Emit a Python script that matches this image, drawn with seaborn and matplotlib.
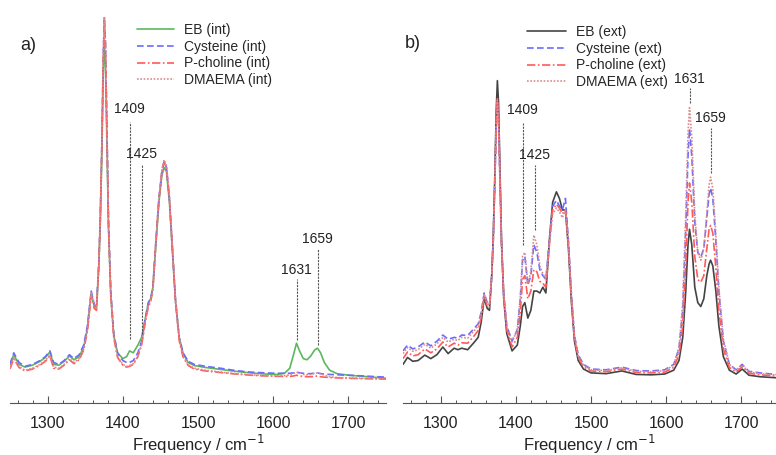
import seaborn as sns
import matplotlib.pyplot as plt
from matplotlib.ticker import MultipleLocator

# panel a) spectra, internal
freq_a = [1250, 1255, 1262, 1270, 1280, 1290, 1297, 1303, 1308, 1315,
          1322, 1329, 1335, 1342, 1348, 1353, 1358, 1362, 1365, 1368,
          1370, 1372, 1374, 1375.5, 1377, 1379, 1381, 1384, 1388, 1393,
          1400, 1405, 1409, 1414, 1420, 1425, 1430, 1434, 1437, 1440,
          1444, 1448, 1452, 1455, 1458, 1462, 1466, 1470, 1475, 1480,
          1487, 1495, 1510, 1530, 1550, 1570, 1590, 1605, 1615, 1622,
          1627, 1631, 1635, 1640, 1645, 1650, 1655, 1659, 1663, 1668,
          1675, 1685, 1700, 1720, 1750]

eb_int = [0.100, 0.125, 0.100, 0.093, 0.098, 0.108, 0.118, 0.132, 0.100, 0.098,
          0.108, 0.122, 0.112, 0.120, 0.145, 0.195, 0.285, 0.250, 0.245, 0.350,
          0.460, 0.630, 0.850, 0.930, 0.870, 0.660, 0.450, 0.280, 0.175, 0.130,
          0.115, 0.120, 0.135, 0.130, 0.150, 0.170, 0.220, 0.260, 0.270, 0.300,
          0.410, 0.520, 0.590, 0.610, 0.600, 0.520, 0.390, 0.265, 0.170, 0.130,
          0.105, 0.097, 0.092, 0.087, 0.082, 0.078, 0.075, 0.074, 0.077, 0.090,
          0.125, 0.155, 0.135, 0.115, 0.112, 0.122, 0.137, 0.142, 0.130, 0.105,
          0.085, 0.076, 0.072, 0.069, 0.064]

cys_int = [0.100, 0.130, 0.105, 0.095, 0.100, 0.110, 0.120, 0.135, 0.105, 0.100,
           0.110, 0.125, 0.115, 0.125, 0.150, 0.200, 0.290, 0.255, 0.250, 0.360,
           0.480, 0.660, 0.900, 1.000, 0.930, 0.700, 0.470, 0.290, 0.180, 0.130,
           0.110, 0.105, 0.105, 0.110, 0.130, 0.160, 0.220, 0.260, 0.270, 0.300,
           0.420, 0.530, 0.600, 0.625, 0.610, 0.530, 0.400, 0.270, 0.170, 0.130,
           0.108, 0.100, 0.095, 0.090, 0.084, 0.080, 0.078, 0.077, 0.077, 0.077,
           0.078, 0.080, 0.078, 0.077, 0.076, 0.076, 0.077, 0.078, 0.076, 0.075,
           0.074, 0.073, 0.072, 0.070, 0.067]

pch_int = [0.088, 0.115, 0.092, 0.083, 0.088, 0.098, 0.108, 0.122, 0.090, 0.088,
           0.098, 0.112, 0.102, 0.112, 0.137, 0.187, 0.280, 0.245, 0.240, 0.350,
           0.470, 0.650, 0.890, 0.990, 0.920, 0.690, 0.460, 0.280, 0.170, 0.118,
           0.098, 0.093, 0.095, 0.100, 0.120, 0.150, 0.210, 0.250, 0.262, 0.293,
           0.415, 0.525, 0.600, 0.625, 0.610, 0.530, 0.400, 0.265, 0.162, 0.120,
           0.097, 0.088, 0.083, 0.079, 0.075, 0.072, 0.070, 0.069, 0.069, 0.069,
           0.070, 0.072, 0.070, 0.069, 0.068, 0.068, 0.069, 0.070, 0.068, 0.067,
           0.066, 0.065, 0.064, 0.063, 0.062]

dma_int = [0.090, 0.118, 0.094, 0.085, 0.090, 0.100, 0.110, 0.125, 0.093, 0.090,
           0.100, 0.115, 0.105, 0.115, 0.140, 0.190, 0.285, 0.250, 0.245, 0.355,
           0.475, 0.660, 0.900, 1.000, 0.930, 0.700, 0.465, 0.285, 0.172, 0.120,
           0.100, 0.095, 0.097, 0.102, 0.122, 0.152, 0.212, 0.252, 0.265, 0.296,
           0.420, 0.530, 0.605, 0.630, 0.615, 0.535, 0.405, 0.270, 0.165, 0.122,
           0.099, 0.090, 0.085, 0.080, 0.076, 0.073, 0.071, 0.070, 0.071, 0.073,
           0.077, 0.080, 0.078, 0.074, 0.073, 0.074, 0.077, 0.078, 0.076, 0.072,
           0.068, 0.066, 0.065, 0.064, 0.062]

# panel b) spectra, external
freq_b = [1250, 1256, 1263, 1270, 1279, 1287, 1295, 1303, 1310, 1318,
          1323, 1328, 1336, 1345, 1350, 1354, 1358, 1362, 1365, 1368,
          1370, 1372, 1374, 1375.5, 1377, 1379, 1381, 1384, 1388, 1395,
          1402, 1406, 1409, 1412, 1416, 1420, 1424, 1428, 1432, 1436,
          1440, 1445, 1449, 1454, 1458, 1462, 1466, 1470, 1474, 1478,
          1483, 1490, 1500, 1520, 1541, 1560, 1580, 1598, 1610, 1617,
          1622, 1626, 1629, 1631, 1634, 1638, 1642, 1646, 1650, 1654,
          1657, 1659, 1662, 1666, 1670, 1676, 1684, 1693, 1701, 1710,
          1725, 1750]

eb_ext = [0.100, 0.118, 0.108, 0.110, 0.124, 0.115, 0.125, 0.145, 0.128, 0.142,
          0.138, 0.142, 0.138, 0.158, 0.170, 0.210, 0.272, 0.245, 0.240, 0.330,
          0.430, 0.580, 0.760, 0.835, 0.780, 0.600, 0.420, 0.270, 0.180, 0.135,
          0.150, 0.200, 0.250, 0.260, 0.220, 0.240, 0.290, 0.290, 0.285, 0.300,
          0.285, 0.430, 0.520, 0.547, 0.530, 0.500, 0.500, 0.400, 0.260, 0.160,
          0.110, 0.088, 0.078, 0.076, 0.083, 0.074, 0.073, 0.075, 0.085, 0.110,
          0.170, 0.290, 0.410, 0.450, 0.410, 0.300, 0.260, 0.250, 0.270, 0.330,
          0.360, 0.370, 0.355, 0.290, 0.200, 0.120, 0.085, 0.075, 0.088, 0.072,
          0.068, 0.065]

cys_ext = [0.135, 0.150, 0.140, 0.145, 0.158, 0.148, 0.160, 0.176, 0.165, 0.170,
           0.168, 0.176, 0.175, 0.194, 0.205, 0.235, 0.285, 0.260, 0.255, 0.330,
           0.420, 0.560, 0.720, 0.780, 0.730, 0.570, 0.410, 0.280, 0.200, 0.160,
           0.190, 0.270, 0.370, 0.380, 0.305, 0.330, 0.410, 0.390, 0.345, 0.330,
           0.320, 0.430, 0.510, 0.525, 0.510, 0.500, 0.530, 0.420, 0.280, 0.175,
           0.125, 0.100, 0.088, 0.086, 0.093, 0.084, 0.083, 0.086, 0.100, 0.140,
           0.240, 0.450, 0.640, 0.710, 0.640, 0.470, 0.390, 0.378, 0.400, 0.480,
           0.540, 0.557, 0.530, 0.420, 0.290, 0.160, 0.100, 0.086, 0.100, 0.082,
           0.078, 0.073]

pch_ext = [0.115, 0.132, 0.122, 0.125, 0.140, 0.130, 0.140, 0.158, 0.145, 0.155,
           0.150, 0.156, 0.155, 0.175, 0.188, 0.222, 0.278, 0.252, 0.248, 0.330,
           0.420, 0.565, 0.730, 0.790, 0.740, 0.580, 0.415, 0.275, 0.190, 0.145,
           0.170, 0.235, 0.320, 0.330, 0.270, 0.290, 0.345, 0.340, 0.315, 0.310,
           0.300, 0.420, 0.500, 0.515, 0.505, 0.490, 0.500, 0.410, 0.270, 0.168,
           0.118, 0.094, 0.083, 0.081, 0.088, 0.079, 0.078, 0.080, 0.092, 0.125,
           0.200, 0.360, 0.520, 0.570, 0.520, 0.380, 0.320, 0.313, 0.330, 0.400,
           0.450, 0.460, 0.440, 0.350, 0.240, 0.140, 0.092, 0.080, 0.094, 0.077,
           0.073, 0.069]

dma_ext = [0.128, 0.144, 0.134, 0.138, 0.152, 0.142, 0.153, 0.170, 0.158, 0.165,
           0.162, 0.170, 0.168, 0.188, 0.200, 0.232, 0.283, 0.258, 0.253, 0.330,
           0.420, 0.560, 0.720, 0.785, 0.735, 0.575, 0.412, 0.280, 0.200, 0.158,
           0.190, 0.275, 0.380, 0.390, 0.310, 0.340, 0.435, 0.410, 0.355, 0.335,
           0.320, 0.420, 0.490, 0.505, 0.495, 0.480, 0.500, 0.410, 0.275, 0.172,
           0.122, 0.098, 0.086, 0.084, 0.091, 0.082, 0.081, 0.084, 0.098, 0.145,
           0.260, 0.490, 0.700, 0.765, 0.690, 0.490, 0.390, 0.370, 0.400, 0.490,
           0.565, 0.585, 0.555, 0.440, 0.300, 0.165, 0.100, 0.085, 0.098, 0.080,
           0.076, 0.072]

# peak markers: position, line bottom, line top, label height
marks_a = [(1409, 0.165, 0.728, 0.762), (1425, 0.180, 0.620, 0.645),
           (1631, 0.163, 0.320, 0.345), (1659, 0.150, 0.400, 0.425)]
marks_b = [(1409, 0.410, 0.725, 0.760), (1425, 0.448, 0.617, 0.643),
           (1631, 0.777, 0.816, 0.840), (1659, 0.596, 0.712, 0.738)]

sns.set_style("white")
plt.rcParams['font.family'] = ['Liberation Sans', 'DejaVu Sans']

fig = plt.figure(figsize=(7.76, 4.55), dpi=100)
W, H = 776, 455
ax_a = fig.add_axes([10 / W, 52 / H, 376 / W, 393 / H])
ax_b = fig.add_axes([403 / W, 52 / H, 373 / W, 393 / H])

styles = [
    ("EB", "#5cb85c", "-"),
    ("Cysteine", "#6b6bff", (0, (4, 2))),
    ("P-choline", "#ff5a5a", (0, (5, 1.5, 1, 1.5))),
    ("DMAEMA", "#dd8a8a", (0, (1, 1))),
]

series_a = [eb_int, cys_int, pch_int, dma_int]
series_b = [eb_ext, cys_ext, pch_ext, dma_ext]

for (name, color, ls), ys in zip(styles, series_a):
    sns.lineplot(x=freq_a, y=ys, ax=ax_a, color=color, linestyle=ls,
                 linewidth=1.2, label=f"{name} (int)", sort=False)

for i, ((name, color, ls), ys) in enumerate(zip(styles, series_b)):
    if i == 0:
        color = "#444444"
    sns.lineplot(x=freq_b, y=ys, ax=ax_b, color=color, linestyle=ls,
                 linewidth=1.2, label=f"{name} (ext)", sort=False)

for ax, marks, xmax in [(ax_a, marks_a, 1750), (ax_b, marks_b, 1746)]:
    for x, lo, hi, ty in marks:
        ax.vlines(x, lo, hi, color="#555555", linestyle=(0, (2, 1)), linewidth=0.8)
        ax.text(x, ty, str(x), ha="center", va="center", fontsize=10, color="#222222")
    ax.set_xlim(1250, xmax)
    ax.set_ylim(0, 1.018)
    ax.set_yticks([])
    ax.set_ylabel("")
    for s in ["left", "right", "top"]:
        ax.spines[s].set_visible(False)
    ax.spines["bottom"].set_color("#555555")
    ax.spines["bottom"].set_linewidth(0.8)
    ax.xaxis.set_major_locator(MultipleLocator(100))
    ax.xaxis.set_minor_locator(MultipleLocator(20))
    ax.tick_params(axis="x", which="both", bottom=True)
    ax.tick_params(axis="x", which="major", direction="in", length=5, width=0.8,
                   color="#555555", labelsize=11.5, labelcolor="#222222", pad=9)
    ax.tick_params(axis="x", which="minor", direction="in", length=2.5, width=0.7,
                   color="#555555")
    ax.set_xlabel("Frequency / cm$^{-1}$", fontsize=12, color="#222222", labelpad=2)
    ax.set_facecolor("none")

ax_a.legend(loc="upper left", bbox_to_anchor=(130 / W, 1 - 16 / H),
            bbox_transform=fig.transFigure, frameon=False, fontsize=10,
            borderpad=0, handlelength=2.7, handletextpad=0.7, labelspacing=0.2)
ax_b.legend(loc="upper left", bbox_to_anchor=(520 / W, 1 - 18 / H),
            bbox_transform=fig.transFigure, frameon=False, fontsize=10,
            borderpad=0, handlelength=2.8, handletextpad=0.7, labelspacing=0.2)

fig.text(20 / W, 1 - 45 / H, "a)", fontsize=13, va="center", color="#222222")
fig.text(405 / W, 1 - 44 / H, "b)", fontsize=13, va="center", color="#222222")

fig.savefig("out.png", dpi=100)
